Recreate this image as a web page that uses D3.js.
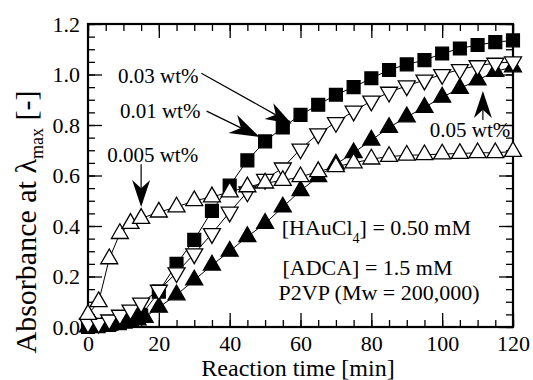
<!DOCTYPE html>
<html>
<head>
<meta charset="utf-8">
<script src="https://cdn.jsdelivr.net/npm/d3@7"></script>
<style>
  body { margin: 0; background: #fff; }
  text { font-family: "Liberation Serif", "Times New Roman", serif; fill: #000; }
</style>
</head>
<body>
<div id="chart"></div>
<script>
// data
var tOpen = [0, 3, 6, 9, 12, 15, 20, 25, 30, 35, 40, 45, 50, 55, 60, 65, 70, 75, 80, 85, 90, 95, 100, 105, 110, 115, 120];
var abs0005 = [0.05, 0.10, 0.27, 0.37, 0.41, 0.43, 0.455, 0.475, 0.50, 0.515, 0.535, 0.555, 0.57, 0.58, 0.595, 0.615, 0.635, 0.65, 0.665, 0.675, 0.68, 0.682, 0.685, 0.687, 0.69, 0.69, 0.695];
var abs001 = [0.015, 0.015, 0.028, 0.047, 0.067, 0.095, 0.146, 0.215, 0.29, 0.37, 0.455, 0.535, 0.585, 0.63, 0.705, 0.765, 0.81, 0.855, 0.895, 0.93, 0.955, 0.978, 1.0, 1.02, 1.035, 1.045, 1.05];
var tSquare = [0, 3, 6, 9, 12, 15, 20, 25, 30, 35, 40, 45, 50, 55, 60, 65, 70, 75, 80, 85, 90, 95, 100, 105, 110, 115, 120];
var abs003 = [0.0, 0.003, 0.008, 0.015, 0.025, 0.045, 0.14, 0.25, 0.345, 0.46, 0.56, 0.66, 0.735, 0.79, 0.84, 0.88, 0.92, 0.95, 0.985, 1.018, 1.04, 1.057, 1.083, 1.103, 1.117, 1.128, 1.135];
var tFilled = [0, 2, 4, 6, 8, 10, 12, 14, 16, 20, 25, 30, 35, 40, 45, 50, 55, 60, 65, 70, 75, 80, 85, 90, 95, 100, 105, 110, 115, 120];
var abs005 = [0, 0.002, 0.004, 0.007, 0.01, 0.015, 0.02, 0.028, 0.038, 0.078, 0.127, 0.186, 0.245, 0.30, 0.358, 0.41, 0.475, 0.54, 0.595, 0.645, 0.69, 0.74, 0.79, 0.832, 0.87, 0.91, 0.945, 0.978, 1.012, 1.03];

var xTicks = [0, 20, 40, 60, 80, 100, 120];
var yTicks = [0, 0.2, 0.4, 0.6, 0.8, 1.0, 1.2];

var W = 533, H = 380;
var svg = d3.select("#chart").append("svg")
  .attr("width", W).attr("height", H);

var x = d3.scaleLinear().domain([0, 120]).range([88, 513]);
var y = d3.scaleLinear().domain([0, 1.2]).range([327, 24]);

function zip(ts, vs) { return ts.map(function(t, i) { return {t: t, v: vs[i]}; }); }

var series = [
  {data: zip(tFilled, abs005), type: d3.symbolTriangle, fill: "#000", rot: 0, size: 125},
  {data: zip(tSquare, abs003), type: d3.symbolSquare, fill: "#000", rot: 0, size: 165},
  {data: zip(tOpen, abs001), type: d3.symbolTriangle, fill: "#fff", rot: 180, size: 125},
  {data: zip(tOpen, abs0005), type: d3.symbolTriangle, fill: "#fff", rot: 0, size: 125}
];

// axes (ticks pointing inward)
function axis(gen, tr, ticks, size, labels) {
  var g = svg.append("g").attr("transform", tr)
    .call(gen.tickValues(ticks).tickSize(size).tickPadding(8)
      .tickFormat(labels ? labels : ""));
  g.select(".domain").remove();
  g.selectAll("line").attr("stroke", "#000").attr("stroke-width", 1.3);
  g.selectAll("text").style("font-size", "22px").style("font-family", "Liberation Serif");
  return g;
}
var xMinor = d3.range(0, 121, 5), yMinor = d3.range(0, 1.21, 0.05);
axis(d3.axisBottom(x), "translate(0,327)", xMinor, -7);
axis(d3.axisBottom(x), "translate(0,327)", xTicks, -14, d3.format("d"));
axis(d3.axisTop(x), "translate(0,24)", xMinor, -7);
axis(d3.axisTop(x), "translate(0,24)", xTicks, -14);
axis(d3.axisLeft(y), "translate(88,0)", yMinor, -7);
axis(d3.axisLeft(y), "translate(88,0)", yTicks, -14, d3.format(".1f"));
axis(d3.axisRight(y), "translate(513,0)", yMinor, -7);
axis(d3.axisRight(y), "translate(513,0)", yTicks, -14);

svg.append("rect")
  .attr("x", x(0)).attr("y", y(1.2))
  .attr("width", x(120) - x(0)).attr("height", y(0) - y(1.2))
  .attr("fill", "none").attr("stroke", "#000").attr("stroke-width", 2.2);

// lines
var line = d3.line().x(function(d) { return x(d.t); }).y(function(d) { return y(d.v); });
series.forEach(function(s) {
  svg.append("path").datum(s.data).attr("d", line)
    .attr("fill", "none").attr("stroke", "#000").attr("stroke-width", 1);
});

// markers
series.forEach(function(s) {
  svg.append("g").selectAll("path").data(s.data).enter().append("path")
    .attr("d", d3.symbol().type(s.type).size(s.size))
    .attr("transform", function(d) { return "translate(" + x(d.t) + "," + y(d.v) + ") rotate(" + s.rot + ")"; })
    .attr("fill", s.fill).attr("stroke", "#000").attr("stroke-width", 1.3);
});

// annotation arrows
function arrow(t1, v1, t2, v2, len, wid) {
  var x1 = x(t1), y1 = y(v1), x2 = x(t2), y2 = y(v2);
  var dx = x2 - x1, dy = y2 - y1, L = Math.sqrt(dx * dx + dy * dy);
  var ux = dx / L, uy = dy / L, px = -uy, py = ux;
  var bx = x2 - ux * len, by = y2 - uy * len;
  var nx = x2 - ux * len * 0.7, ny = y2 - uy * len * 0.7;
  svg.append("line").attr("x1", x1).attr("y1", y1).attr("x2", nx).attr("y2", ny)
    .attr("stroke", "#000").attr("stroke-width", 1.2);
  svg.append("path")
    .attr("d", "M" + x2 + "," + y2 +
      "L" + (bx + px * wid / 2) + "," + (by + py * wid / 2) +
      "L" + nx + "," + ny +
      "L" + (bx - px * wid / 2) + "," + (by - py * wid / 2) + "Z")
    .attr("fill", "#000");
}
arrow(32, 1.005, 57.5, 0.805, 26, 18);
arrow(33.5, 0.855, 48.5, 0.752, 30, 20);
arrow(15, 0.645, 15, 0.475, 27, 18);
arrow(111.5, 0.82, 111.5, 0.935, 27, 18);

function label(t, v, str, size) {
  return svg.append("text").attr("x", x(t)).attr("y", y(v))
    .style("font-size", size + "px").text(str);
}
label(8.5, 0.968, "0.03 wt%", 21);
label(9, 0.828, "0.01 wt%", 21);
label(5.4, 0.653, "0.005 wt%", 21);
label(96.5, 0.752, "0.05 wt%", 21);

var hau = svg.append("text").attr("x", x(54.7)).attr("y", y(0.364)).style("font-size", "22px");
hau.append("tspan").text("[HAuCl");
hau.append("tspan").attr("dy", 8).style("font-size", "14px").text("4");
hau.append("tspan").attr("dy", -8).text("] = 0.50 mM");
label(54.9, 0.205, "[ADCA] = 1.5 mM", 22);
label(53.8, 0.107, "P2VP (Mw = 200,000)", 22);

// axis titles
svg.append("text").attr("x", 298).attr("y", 376)
  .attr("text-anchor", "middle").style("font-size", "24px")
  .text("Reaction time [min]");

var yl = svg.append("text")
  .attr("transform", "translate(36,222) rotate(-90)")
  .attr("text-anchor", "middle").style("font-size", "30px");
yl.append("tspan").text("Absorbance at λ");
yl.append("tspan").attr("dy", 7).style("font-size", "18px").text("max");
yl.append("tspan").attr("dy", -7).text(" [-]");
</script>
</body>
</html>
